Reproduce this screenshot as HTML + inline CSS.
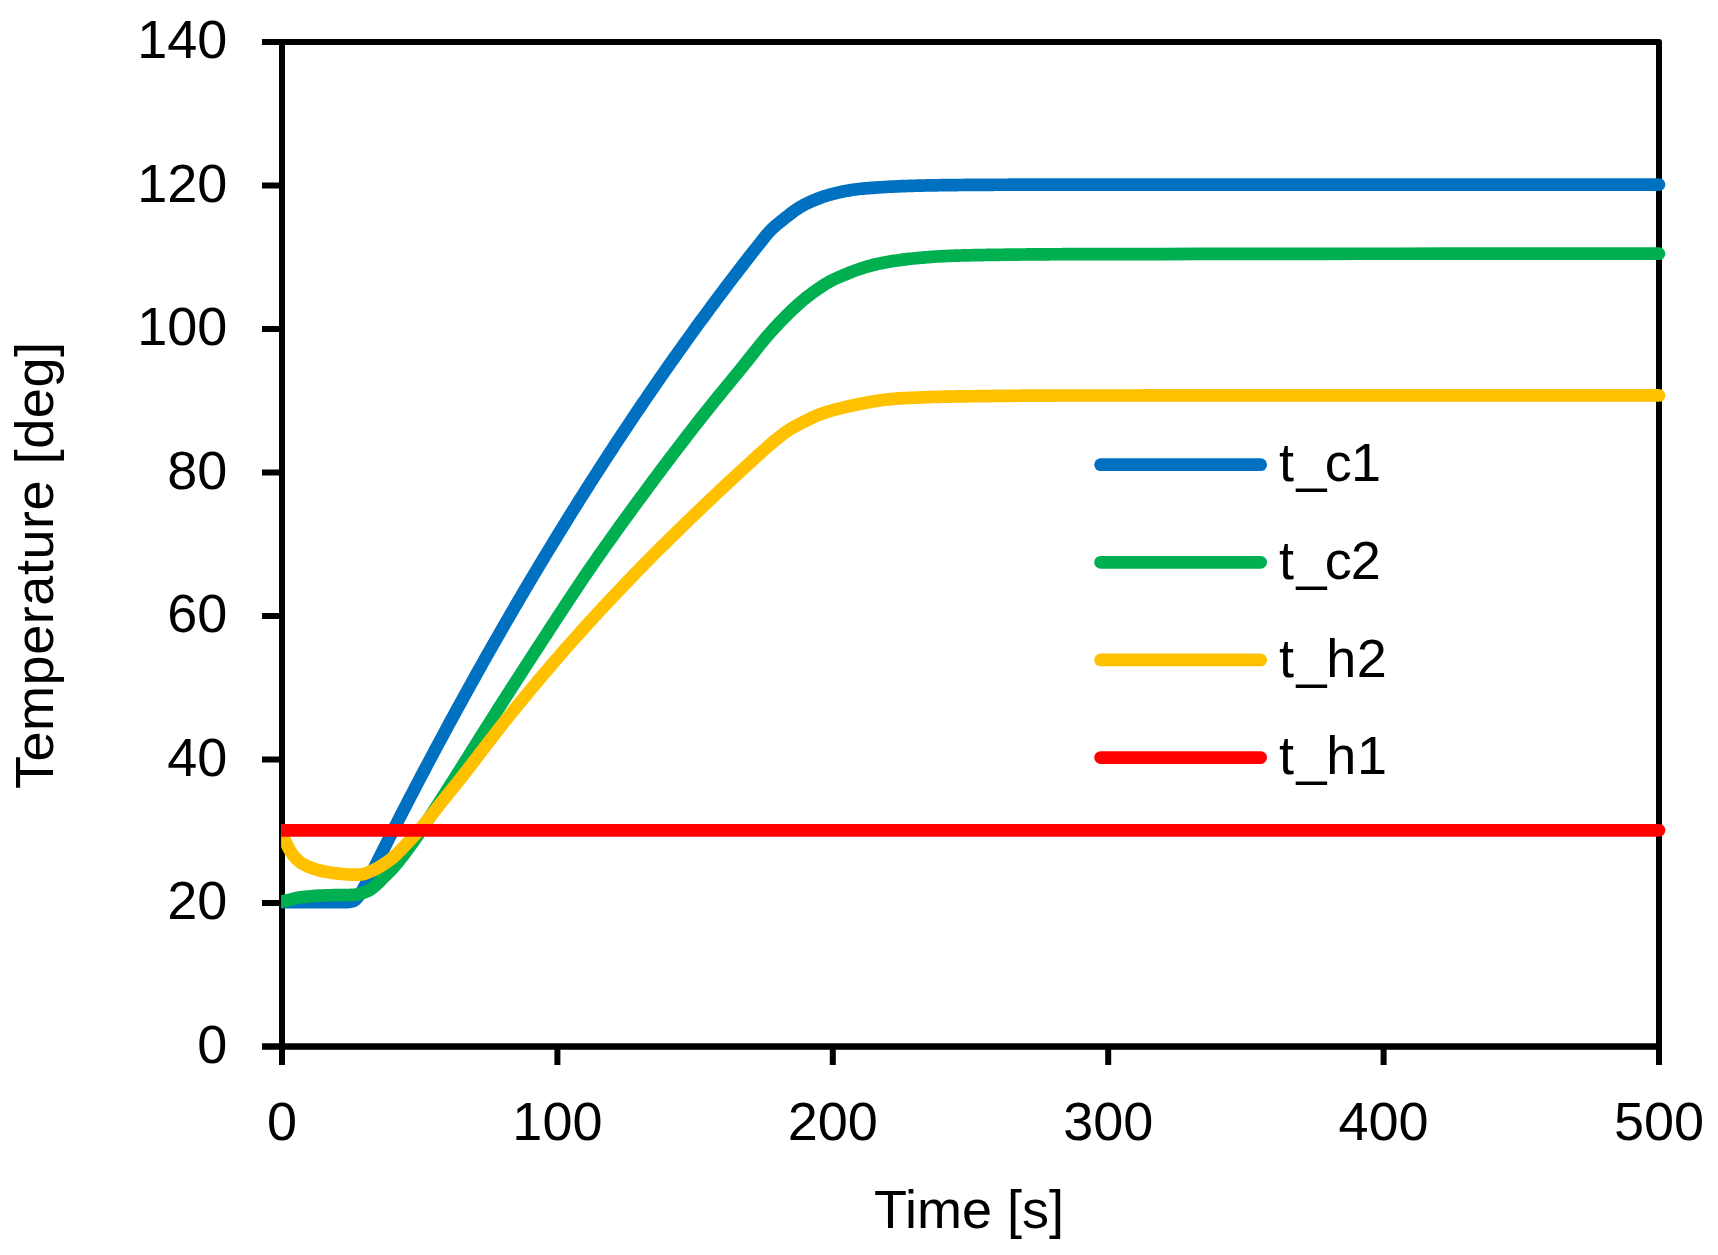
<!DOCTYPE html>
<html lang="en"><head><meta charset="utf-8"><title>Temperature vs Time</title>
<style>
html,body{margin:0;padding:0;background:#fff;}
body{width:1718px;height:1255px;overflow:hidden;}
svg{display:block;}
text{font-family:"Liberation Sans", sans-serif;font-size:54px;fill:#000;}
.ax{stroke:#000;stroke-width:6;fill:none;stroke-linecap:butt;}
.s{fill:none;stroke-width:12.7;stroke-linecap:round;stroke-linejoin:round;}
</style></head><body>
<svg width="1718" height="1255" viewBox="0 0 1718 1255">
<rect width="1718" height="1255" fill="#fff"/>
<defs><clipPath id="cp"><rect x="281.1" y="0" width="1500" height="1255" rx="1.5"/></clipPath></defs>
<rect class="ax" x="282.0" y="42.0" width="1377.0" height="1004.5" stroke-linejoin="round"/>
<path class="ax" d="M262,1046.50H282.0 M262,903.00H282.0 M262,759.50H282.0 M262,616.00H282.0 M262,472.50H282.0 M262,329.00H282.0 M262,185.50H282.0 M262,42.00H282.0 M282.00,1046.5V1065 M557.40,1046.5V1065 M832.80,1046.5V1065 M1108.20,1046.5V1065 M1383.60,1046.5V1065 M1659.00,1046.5V1065 "/>
<path class="ax" d="M282.0,39.0V1065 M262,1046.5H1662.0"/>
<g clip-path="url(#cp)">
<path class="s" stroke="#0070C0" d="M281,902.10 L283,902.10 L285,902.10 L287,902.10 L289,902.10 L291,902.10 L293,902.10 L295,902.10 L297,902.10 L299,902.10 L301,902.10 L303,902.10 L305,902.10 L307,902.10 L309,902.10 L311,902.10 L313,902.10 L315,902.10 L317,902.10 L319,902.10 L321,902.10 L323,902.10 L325,902.10 L327,902.10 L329,902.10 L331,902.10 L333,902.10 L335,902.10 L337,902.10 L339,902.10 L341,902.10 L343,902.10 L345,902.10 L347,902.08 L349,901.98 L351,901.76 L353,901.20 L355,900.02 L357,898.19 L359,895.60 L361,892.52 L363,889.16 L365,885.60 L367,881.92 L369,878.09 L371,874.19 L373,870.27 L375,866.29 L377,862.27 L379,858.26 L381,854.28 L383,850.32 L385,846.36 L387,842.41 L389,838.47 L391,834.54 L393,830.61 L395,826.70 L397,822.79 L399,818.89 L401,815.00 L403,811.12 L405,807.24 L407,803.37 L409,799.52 L411,795.67 L413,791.83 L415,787.99 L417,784.17 L419,780.35 L421,776.54 L423,772.74 L425,768.95 L427,765.16 L429,761.39 L431,757.62 L433,753.86 L435,750.11 L437,746.37 L439,742.63 L441,738.91 L443,735.19 L445,731.48 L447,727.78 L449,724.08 L451,720.40 L453,716.72 L455,713.05 L457,709.39 L459,705.73 L461,702.09 L463,698.45 L465,694.82 L467,691.20 L469,687.58 L471,683.98 L473,680.38 L475,676.79 L477,673.21 L479,669.63 L481,666.07 L483,662.51 L485,658.96 L487,655.41 L489,651.88 L491,648.35 L493,644.83 L495,641.32 L497,637.82 L499,634.32 L501,630.84 L503,627.36 L505,623.88 L507,620.42 L509,616.97 L511,613.52 L513,610.08 L515,606.64 L517,603.22 L519,599.80 L521,596.39 L523,592.99 L525,589.60 L527,586.21 L529,582.84 L531,579.47 L533,576.11 L535,572.75 L537,569.40 L539,566.06 L541,562.73 L543,559.41 L545,556.09 L547,552.79 L549,549.49 L551,546.19 L553,542.91 L555,539.63 L557,536.36 L559,533.10 L561,529.85 L563,526.60 L565,523.36 L567,520.13 L569,516.90 L571,513.69 L573,510.48 L575,507.28 L577,504.09 L579,500.90 L581,497.72 L583,494.55 L585,491.39 L587,488.23 L589,485.08 L591,481.94 L593,478.81 L595,475.69 L597,472.57 L599,469.46 L601,466.36 L603,463.26 L605,460.17 L607,457.09 L609,454.02 L611,450.95 L613,447.90 L615,444.85 L617,441.80 L619,438.77 L621,435.74 L623,432.72 L625,429.70 L627,426.70 L629,423.70 L631,420.71 L633,417.72 L635,414.75 L637,411.78 L639,408.82 L641,405.86 L643,402.92 L645,399.98 L647,397.04 L649,394.12 L651,391.20 L653,388.29 L655,385.39 L657,382.49 L659,379.60 L661,376.72 L663,373.85 L665,370.98 L667,368.12 L669,365.27 L671,362.42 L673,359.59 L675,356.76 L677,353.93 L679,351.12 L681,348.31 L683,345.51 L685,342.71 L687,339.92 L689,337.14 L691,334.37 L693,331.60 L695,328.85 L697,326.09 L699,323.35 L701,320.61 L703,317.88 L705,315.16 L707,312.44 L709,309.73 L711,307.03 L713,304.34 L715,301.65 L717,298.97 L719,296.29 L721,293.63 L723,290.97 L725,288.31 L727,285.67 L729,283.03 L731,280.40 L733,277.77 L735,275.16 L737,272.55 L739,269.94 L741,267.34 L743,264.75 L745,262.17 L747,259.59 L749,257.02 L751,254.46 L753,251.92 L755,249.39 L757,246.88 L759,244.36 L761,241.83 L763,239.29 L765,236.79 L767,234.37 L769,232.09 L771,229.97 L773,228.00 L775,226.18 L777,224.46 L779,222.81 L781,221.21 L783,219.64 L785,218.06 L787,216.49 L789,214.92 L791,213.37 L793,211.86 L795,210.41 L797,209.05 L799,207.78 L801,206.60 L803,205.49 L805,204.44 L807,203.44 L809,202.47 L811,201.55 L813,200.66 L815,199.80 L817,198.99 L819,198.22 L821,197.48 L823,196.78 L825,196.13 L827,195.51 L829,194.93 L831,194.39 L833,193.86 L835,193.36 L837,192.88 L839,192.41 L841,191.96 L843,191.53 L845,191.13 L847,190.74 L849,190.38 L851,190.05 L853,189.74 L855,189.47 L857,189.22 L859,188.99 L861,188.79 L863,188.60 L865,188.43 L867,188.26 L869,188.10 L871,187.95 L873,187.80 L875,187.66 L877,187.52 L879,187.38 L881,187.25 L883,187.13 L885,187.01 L887,186.89 L889,186.78 L891,186.68 L893,186.57 L895,186.48 L897,186.38 L899,186.29 L901,186.21 L903,186.13 L905,186.05 L907,185.98 L909,185.91 L911,185.85 L913,185.79 L915,185.73 L917,185.68 L919,185.63 L921,185.58 L923,185.54 L925,185.50 L927,185.46 L929,185.42 L931,185.38 L933,185.35 L935,185.31 L937,185.28 L939,185.25 L941,185.22 L943,185.19 L945,185.16 L947,185.14 L949,185.11 L951,185.09 L953,185.07 L955,185.05 L957,185.03 L959,185.01 L961,184.99 L963,184.98 L965,184.96 L967,184.94 L969,184.93 L971,184.91 L973,184.90 L975,184.88 L977,184.87 L979,184.86 L981,184.84 L983,184.83 L985,184.82 L987,184.81 L989,184.80 L991,184.79 L993,184.78 L995,184.77 L997,184.76 L999,184.75 L1001,184.75 L1003,184.74 L1005,184.73 L1007,184.73 L1009,184.72 L1011,184.71 L1013,184.71 L1015,184.70 L1017,184.70 L1019,184.69 L1021,184.68 L1023,184.68 L1025,184.67 L1027,184.67 L1029,184.66 L1031,184.66 L1033,184.65 L1035,184.65 L1037,184.64 L1039,184.64 L1041,184.63 L1043,184.63 L1045,184.63 L1047,184.62 L1049,184.62 L1051,184.62 L1053,184.61 L1055,184.61 L1057,184.61 L1059,184.61 L1061,184.60 L1063,184.60 L1065,184.60 L1067,184.60 L1069,184.60 L1071,184.60 L1073,184.60 L1075,184.60 L1077,184.60 L1079,184.60 L1081,184.60 L1083,184.60 L1085,184.60 L1087,184.60 L1089,184.60 L1091,184.60 L1093,184.60 L1095,184.60 L1097,184.60 L1099,184.60 L1121,184.60 L1161,184.60 L1201,184.60 L1241,184.60 L1281,184.60 L1321,184.60 L1361,184.60 L1401,184.60 L1441,184.60 L1481,184.60 L1521,184.60 L1561,184.60 L1601,184.60 L1641,184.60 L1659,184.60"/>
<path class="s" stroke="#00B050" d="M281,901.70 L283,901.26 L285,900.81 L287,900.36 L289,899.90 L291,899.43 L293,898.90 L295,898.37 L297,897.89 L299,897.53 L301,897.26 L303,897.04 L305,896.84 L307,896.65 L309,896.46 L311,896.26 L313,896.07 L315,895.90 L317,895.76 L319,895.66 L321,895.58 L323,895.52 L325,895.47 L327,895.41 L329,895.35 L331,895.27 L333,895.19 L335,895.12 L337,895.08 L339,895.06 L341,895.04 L343,895.03 L345,895.02 L347,895.00 L349,894.98 L351,894.96 L353,894.92 L355,894.80 L357,894.38 L359,893.92 L361,893.42 L363,892.85 L365,892.18 L367,891.40 L369,890.36 L371,889.10 L373,887.66 L375,885.98 L377,884.17 L379,882.27 L381,880.24 L383,878.18 L385,876.18 L387,874.25 L389,872.30 L391,870.24 L393,868.03 L395,865.73 L397,863.35 L399,860.90 L401,858.38 L403,855.81 L405,853.18 L407,850.52 L409,847.82 L411,845.09 L413,842.32 L415,839.42 L417,836.46 L419,833.48 L421,830.47 L423,827.44 L425,824.39 L427,821.33 L429,818.25 L431,815.16 L433,812.06 L435,808.95 L437,805.84 L439,802.73 L441,799.62 L443,796.51 L445,793.38 L447,790.24 L449,787.10 L451,783.94 L453,780.79 L455,777.62 L457,774.45 L459,771.28 L461,768.10 L463,764.92 L465,761.73 L467,758.54 L469,755.35 L471,752.16 L473,748.97 L475,745.78 L477,742.59 L479,739.41 L481,736.22 L483,733.04 L485,729.87 L487,726.69 L489,723.53 L491,720.37 L493,717.21 L495,714.06 L497,710.92 L499,707.78 L501,704.65 L503,701.52 L505,698.39 L507,695.26 L509,692.14 L511,689.02 L513,685.90 L515,682.79 L517,679.68 L519,676.57 L521,673.46 L523,670.36 L525,667.27 L527,664.17 L529,661.08 L531,657.99 L533,654.91 L535,651.83 L537,648.75 L539,645.68 L541,642.61 L543,639.54 L545,636.47 L547,633.41 L549,630.34 L551,627.27 L553,624.20 L555,621.14 L557,618.07 L559,615.01 L561,611.95 L563,608.90 L565,605.85 L567,602.80 L569,599.77 L571,596.74 L573,593.72 L575,590.71 L577,587.70 L579,584.71 L581,581.73 L583,578.76 L585,575.81 L587,572.87 L589,569.94 L591,567.03 L593,564.13 L595,561.24 L597,558.36 L599,555.49 L601,552.63 L603,549.79 L605,546.95 L607,544.12 L609,541.30 L611,538.49 L613,535.69 L615,532.89 L617,530.10 L619,527.32 L621,524.55 L623,521.78 L625,519.02 L627,516.27 L629,513.52 L631,510.78 L633,508.04 L635,505.31 L637,502.58 L639,499.85 L641,497.13 L643,494.42 L645,491.70 L647,489.00 L649,486.29 L651,483.60 L653,480.90 L655,478.21 L657,475.53 L659,472.85 L661,470.18 L663,467.52 L665,464.85 L667,462.20 L669,459.55 L671,456.90 L673,454.26 L675,451.63 L677,449.00 L679,446.38 L681,443.77 L683,441.16 L685,438.55 L687,435.96 L689,433.36 L691,430.78 L693,428.20 L695,425.63 L697,423.07 L699,420.51 L701,417.97 L703,415.44 L705,412.93 L707,410.42 L709,407.93 L711,405.45 L713,402.98 L715,400.52 L717,398.07 L719,395.62 L721,393.18 L723,390.74 L725,388.31 L727,385.87 L729,383.44 L731,381.00 L733,378.56 L735,376.11 L737,373.67 L739,371.21 L741,368.75 L743,366.27 L745,363.79 L747,361.30 L749,358.79 L751,356.27 L753,353.73 L755,351.18 L757,348.63 L759,346.10 L761,343.60 L763,341.15 L765,338.76 L767,336.42 L769,334.12 L771,331.86 L773,329.65 L775,327.46 L777,325.31 L779,323.20 L781,321.11 L783,319.05 L785,317.02 L787,315.01 L789,313.04 L791,311.09 L793,309.18 L795,307.31 L797,305.48 L799,303.69 L801,301.96 L803,300.27 L805,298.62 L807,297.03 L809,295.48 L811,293.96 L813,292.49 L815,291.05 L817,289.63 L819,288.24 L821,286.88 L823,285.56 L825,284.29 L827,283.09 L829,281.94 L831,280.87 L833,279.86 L835,278.90 L837,277.99 L839,277.12 L841,276.27 L843,275.43 L845,274.60 L847,273.78 L849,272.97 L851,272.17 L853,271.38 L855,270.63 L857,269.90 L859,269.20 L861,268.53 L863,267.89 L865,267.27 L867,266.67 L869,266.09 L871,265.54 L873,265.02 L875,264.52 L877,264.05 L879,263.61 L881,263.19 L883,262.80 L885,262.42 L887,262.06 L889,261.72 L891,261.38 L893,261.06 L895,260.75 L897,260.46 L899,260.17 L901,259.90 L903,259.64 L905,259.39 L907,259.15 L909,258.93 L911,258.71 L913,258.50 L915,258.30 L917,258.10 L919,257.91 L921,257.72 L923,257.55 L925,257.38 L927,257.21 L929,257.06 L931,256.91 L933,256.78 L935,256.65 L937,256.53 L939,256.42 L941,256.31 L943,256.21 L945,256.12 L947,256.03 L949,255.94 L951,255.86 L953,255.78 L955,255.70 L957,255.63 L959,255.56 L961,255.50 L963,255.44 L965,255.38 L967,255.33 L969,255.28 L971,255.24 L973,255.20 L975,255.16 L977,255.13 L979,255.09 L981,255.06 L983,255.03 L985,255.00 L987,254.96 L989,254.93 L991,254.90 L993,254.87 L995,254.84 L997,254.82 L999,254.79 L1001,254.76 L1003,254.73 L1005,254.71 L1007,254.68 L1009,254.66 L1011,254.63 L1013,254.61 L1015,254.58 L1017,254.56 L1019,254.54 L1021,254.52 L1023,254.50 L1025,254.48 L1027,254.46 L1029,254.44 L1031,254.42 L1033,254.40 L1035,254.39 L1037,254.37 L1039,254.35 L1041,254.34 L1043,254.33 L1045,254.31 L1047,254.30 L1049,254.29 L1051,254.27 L1053,254.26 L1055,254.25 L1057,254.24 L1059,254.24 L1061,254.23 L1063,254.22 L1065,254.21 L1067,254.21 L1069,254.20 L1071,254.20 L1073,254.19 L1075,254.19 L1077,254.19 L1079,254.18 L1081,254.18 L1083,254.17 L1085,254.17 L1087,254.16 L1089,254.16 L1091,254.16 L1093,254.15 L1095,254.15 L1097,254.14 L1099,254.14 L1121,254.10 L1161,254.03 L1201,253.96 L1241,253.90 L1281,253.85 L1321,253.81 L1361,253.77 L1401,253.74 L1441,253.71 L1481,253.69 L1521,253.67 L1561,253.66 L1601,253.65 L1641,253.65 L1659,253.65"/>
<path class="s" stroke="#FFC000" d="M281,830.08 L283,835.75 L285,840.64 L287,844.82 L289,848.90 L291,852.16 L293,854.95 L295,857.43 L297,859.58 L299,861.34 L301,862.77 L303,864.02 L305,865.12 L307,866.08 L309,866.94 L311,867.72 L313,868.43 L315,869.09 L317,869.70 L319,870.25 L321,870.74 L323,871.19 L325,871.59 L327,871.98 L329,872.33 L331,872.65 L333,872.94 L335,873.19 L337,873.40 L339,873.62 L341,873.82 L343,874.02 L345,874.20 L347,874.35 L349,874.48 L351,874.56 L353,874.60 L355,874.59 L357,874.57 L359,874.54 L361,874.48 L363,874.17 L365,873.60 L367,872.86 L369,872.04 L371,871.22 L373,870.36 L375,869.37 L377,868.29 L379,867.17 L381,865.97 L383,864.69 L385,863.36 L387,862.01 L389,860.61 L391,859.12 L393,857.49 L395,855.71 L397,853.81 L399,851.83 L401,849.77 L403,847.67 L405,845.56 L407,843.45 L409,841.33 L411,839.17 L413,836.98 L415,834.76 L417,832.50 L419,830.22 L421,827.90 L423,825.56 L425,823.19 L427,820.76 L429,818.27 L431,815.74 L433,813.17 L435,810.60 L437,808.02 L439,805.45 L441,802.91 L443,800.39 L445,797.91 L447,795.46 L449,793.01 L451,790.55 L453,788.09 L455,785.60 L457,783.09 L459,780.57 L461,778.03 L463,775.47 L465,772.91 L467,770.33 L469,767.75 L471,765.15 L473,762.55 L475,759.95 L477,757.34 L479,754.73 L481,752.12 L483,749.51 L485,746.89 L487,744.29 L489,741.68 L491,739.08 L493,736.49 L495,733.90 L497,731.32 L499,728.76 L501,726.20 L503,723.66 L505,721.14 L507,718.62 L509,716.13 L511,713.64 L513,711.17 L515,708.71 L517,706.26 L519,703.81 L521,701.38 L523,698.94 L525,696.52 L527,694.10 L529,691.68 L531,689.28 L533,686.88 L535,684.48 L537,682.09 L539,679.71 L541,677.34 L543,674.97 L545,672.61 L547,670.26 L549,667.91 L551,665.57 L553,663.24 L555,660.92 L557,658.60 L559,656.29 L561,653.99 L563,651.70 L565,649.42 L567,647.14 L569,644.87 L571,642.61 L573,640.35 L575,638.11 L577,635.87 L579,633.64 L581,631.41 L583,629.20 L585,626.99 L587,624.79 L589,622.59 L591,620.40 L593,618.22 L595,616.04 L597,613.87 L599,611.71 L601,609.55 L603,607.40 L605,605.26 L607,603.12 L609,600.98 L611,598.86 L613,596.73 L615,594.62 L617,592.50 L619,590.40 L621,588.29 L623,586.20 L625,584.10 L627,582.02 L629,579.93 L631,577.85 L633,575.78 L635,573.71 L637,571.64 L639,569.58 L641,567.53 L643,565.48 L645,563.43 L647,561.40 L649,559.37 L651,557.35 L653,555.34 L655,553.34 L657,551.34 L659,549.35 L661,547.36 L663,545.38 L665,543.41 L667,541.44 L669,539.47 L671,537.51 L673,535.55 L675,533.59 L677,531.63 L679,529.68 L681,527.73 L683,525.78 L685,523.84 L687,521.90 L689,519.96 L691,518.03 L693,516.10 L695,514.17 L697,512.25 L699,510.33 L701,508.42 L703,506.51 L705,504.61 L707,502.70 L709,500.81 L711,498.91 L713,497.02 L715,495.14 L717,493.25 L719,491.37 L721,489.50 L723,487.62 L725,485.75 L727,483.88 L729,482.02 L731,480.15 L733,478.29 L735,476.44 L737,474.59 L739,472.74 L741,470.89 L743,469.06 L745,467.22 L747,465.39 L749,463.56 L751,461.74 L753,459.93 L755,458.11 L757,456.31 L759,454.50 L761,452.70 L763,450.90 L765,449.10 L767,447.32 L769,445.56 L771,443.83 L773,442.13 L775,440.47 L777,438.84 L779,437.25 L781,435.69 L783,434.18 L785,432.72 L787,431.32 L789,429.99 L791,428.73 L793,427.53 L795,426.39 L797,425.30 L799,424.24 L801,423.22 L803,422.20 L805,421.20 L807,420.20 L809,419.21 L811,418.24 L813,417.29 L815,416.38 L817,415.52 L819,414.70 L821,413.94 L823,413.22 L825,412.55 L827,411.92 L829,411.31 L831,410.73 L833,410.17 L835,409.63 L837,409.11 L839,408.59 L841,408.10 L843,407.62 L845,407.15 L847,406.69 L849,406.24 L851,405.79 L853,405.35 L855,404.92 L857,404.50 L859,404.09 L861,403.69 L863,403.30 L865,402.92 L867,402.55 L869,402.18 L871,401.83 L873,401.49 L875,401.17 L877,400.86 L879,400.57 L881,400.30 L883,400.04 L885,399.79 L887,399.55 L889,399.33 L891,399.12 L893,398.92 L895,398.74 L897,398.58 L899,398.44 L901,398.32 L903,398.20 L905,398.10 L907,398.00 L909,397.90 L911,397.81 L913,397.72 L915,397.63 L917,397.55 L919,397.47 L921,397.39 L923,397.32 L925,397.25 L927,397.18 L929,397.11 L931,397.05 L933,396.99 L935,396.93 L937,396.87 L939,396.82 L941,396.77 L943,396.72 L945,396.67 L947,396.63 L949,396.59 L951,396.55 L953,396.51 L955,396.48 L957,396.45 L959,396.42 L961,396.39 L963,396.36 L965,396.33 L967,396.31 L969,396.28 L971,396.25 L973,396.23 L975,396.20 L977,396.18 L979,396.15 L981,396.13 L983,396.10 L985,396.08 L987,396.05 L989,396.03 L991,396.01 L993,395.98 L995,395.96 L997,395.94 L999,395.92 L1001,395.90 L1003,395.88 L1005,395.86 L1007,395.84 L1009,395.82 L1011,395.80 L1013,395.78 L1015,395.77 L1017,395.75 L1019,395.73 L1021,395.72 L1023,395.70 L1025,395.69 L1027,395.67 L1029,395.66 L1031,395.64 L1033,395.63 L1035,395.62 L1037,395.61 L1039,395.60 L1041,395.58 L1043,395.57 L1045,395.56 L1047,395.56 L1049,395.55 L1051,395.54 L1053,395.53 L1055,395.53 L1057,395.52 L1059,395.52 L1061,395.51 L1063,395.51 L1065,395.51 L1067,395.50 L1069,395.50 L1071,395.50 L1073,395.50 L1075,395.50 L1077,395.50 L1079,395.50 L1081,395.50 L1083,395.49 L1085,395.49 L1087,395.49 L1089,395.49 L1091,395.49 L1093,395.49 L1095,395.49 L1097,395.49 L1099,395.49 L1121,395.48 L1161,395.47 L1201,395.45 L1241,395.44 L1281,395.43 L1321,395.43 L1361,395.42 L1401,395.41 L1441,395.41 L1481,395.41 L1521,395.40 L1561,395.40 L1601,395.40 L1641,395.40 L1659,395.40"/>
<path class="s" stroke="#FF0000" d="M282.0,830.30 L1659.0,830.30"/>
</g>
<text x="227.3" y="1062.8" text-anchor="end">0</text>
<text x="227.3" y="919.3" text-anchor="end">20</text>
<text x="227.3" y="775.8" text-anchor="end">40</text>
<text x="227.3" y="632.3" text-anchor="end">60</text>
<text x="227.3" y="488.8" text-anchor="end">80</text>
<text x="227.3" y="345.3" text-anchor="end">100</text>
<text x="227.3" y="201.8" text-anchor="end">120</text>
<text x="227.3" y="58.3" text-anchor="end">140</text>
<text x="282.0" y="1139.5" text-anchor="middle">0</text>
<text x="557.4" y="1139.5" text-anchor="middle">100</text>
<text x="832.8" y="1139.5" text-anchor="middle">200</text>
<text x="1108.2" y="1139.5" text-anchor="middle">300</text>
<text x="1383.6" y="1139.5" text-anchor="middle">400</text>
<text x="1659.0" y="1139.5" text-anchor="middle">500</text>
<text x="969" y="1227.6" text-anchor="middle">Time [s]</text>
<text transform="translate(53.2,789.0) rotate(-90)" textLength="447" lengthAdjust="spacing">Temperature [deg]</text>
<path class="s" stroke="#0070C0" d="M1100.6,464.65H1260.7"/>
<text x="1279.1 1296.6 1324.7 1350.9" y="481.40">t_c1</text>
<path class="s" stroke="#00B050" d="M1100.6,562.3H1260.7"/>
<text x="1279.1 1296.6 1324.7 1350.7" y="579.05">t_c2</text>
<path class="s" stroke="#FFC000" d="M1100.6,659.95H1260.7"/>
<text x="1279.1 1296.6 1326.3 1356.8" y="676.70">t_h2</text>
<path class="s" stroke="#FF0000" d="M1100.6,757.6H1260.7"/>
<text x="1279.1 1296.6 1326.3 1357.0" y="774.35">t_h1</text>
</svg>
</body></html>
